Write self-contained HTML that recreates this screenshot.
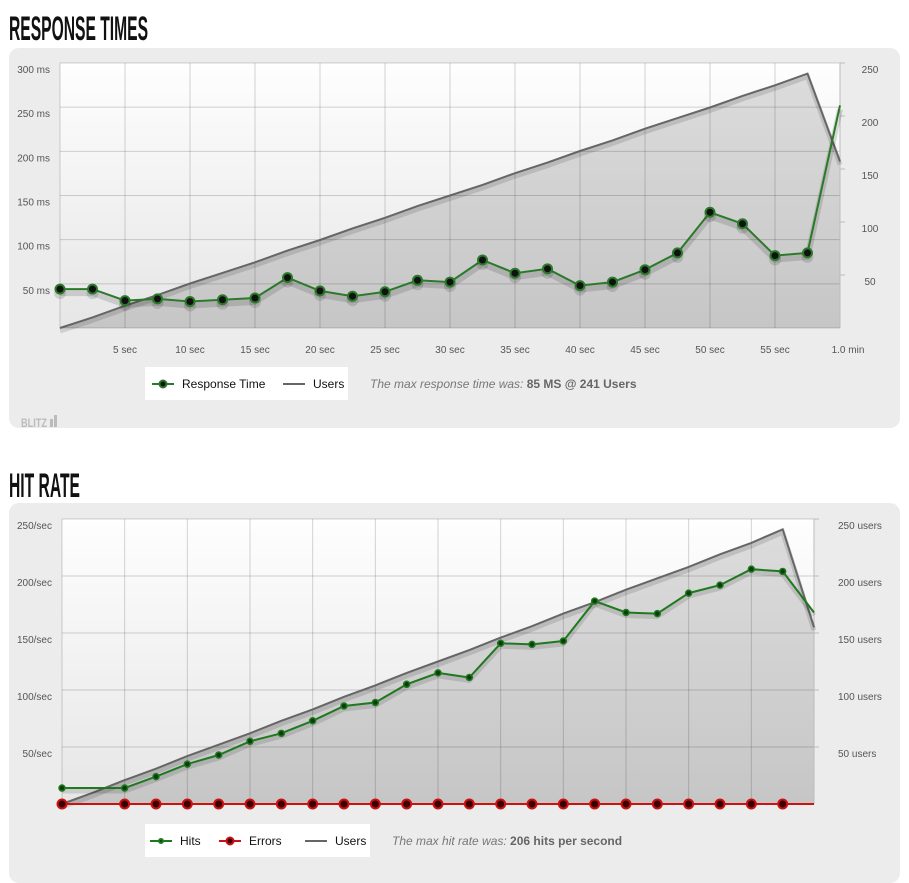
<!DOCTYPE html>
<html><head><meta charset="utf-8">
<style>
body{margin:0;width:909px;height:868px;background:#fff;overflow:hidden;font-family:"Liberation Sans",sans-serif;}
.title{position:absolute;left:9px;font-family:"Liberation Sans Narrow","Liberation Sans",sans-serif;font-weight:bold;font-size:34px;line-height:34px;color:#111;transform:scaleX(0.46);transform-origin:left top;white-space:nowrap;}
.panel{position:absolute;left:9px;width:891px;background:#ececec;border-radius:10px;}
svg{position:absolute;left:0;top:0;}
</style></head><body>
<div class="title" style="top:12px">RESPONSE TIMES</div>
<div class="panel" style="top:48px;height:380px"></div>
<div class="title" style="top:469px">HIT RATE</div>
<div class="panel" style="top:503px;height:380px"></div>
<svg id="s" width="909" height="868">
<defs>
<linearGradient id="bg" x1="0" y1="0" x2="0" y2="1"><stop offset="0" stop-color="#fefefe"/><stop offset="1" stop-color="#e6e6e6"/></linearGradient>
<linearGradient id="ar" x1="0" y1="0" x2="0" y2="1"><stop offset="0" stop-color="#dcdcdc"/><stop offset="1" stop-color="#c6c6c6"/></linearGradient>
</defs>
</svg>
<script>
// Response times chart data
const rtTimes=[0,2.5,5,7.5,10,12.5,15,17.5,20,22.5,25,27.5,30,32.5,35,37.5,40,42.5,45,47.5,50,52.5,55,57.5,60];
const rtValues=[44,44,31,33,30,32,34,57,42,36,41,54,52,77,62,67,48,52,66,85,131,118,82,85,252];
const rtUsers=[0,10,21,31,42,52,62,73,83,94,104,115,125,135,146,156,167,177,188,198,208,219,229,240,157];
const rtLeftTicks=["50 ms","100 ms","150 ms","200 ms","250 ms","300 ms"];
const rtRightTicks=["50","100","150","200","250"];
const rtXTicks=["5 sec","10 sec","15 sec","20 sec","25 sec","30 sec","35 sec","40 sec","45 sec","50 sec","55 sec","1.0 min"];
// Hit rate chart data
const hrSlots=[0,2,3,4,5,6,7,8,9,10,11,12,13,14,15,16,17,18,19,20,21,22,23,24];
const hrHits=[14,14,24,35,43,55,62,73,86,89,105,115,111,141,140,143,178,168,167,185,192,206,204,168];
const hrErrors=[0,0,0,0,0,0,0,0,0,0,0,0,0,0,0,0,0,0,0,0,0,0,0,0];
const hrUserSlots=[0,1,2,3,4,5,6,7,8,9,10,11,12,13,14,15,16,17,18,19,20,21,22,23,24];
const hrUsers=[0,10,21,31,42,52,62,73,83,94,104,115,125,135,146,156,167,177,188,198,208,219,229,241,155];
const hrLeftTicks=["50/sec","100/sec","150/sec","200/sec","250/sec"];
const hrRightTicks=["50 users","100 users","150 users","200 users","250 users"];

const S=document.getElementById('s');
const NS='http://www.w3.org/2000/svg';
function mk(t,a,txt){const e=document.createElementNS(NS,t);for(const k in a)e.setAttribute(k,a[k]);if(txt!==undefined)e.textContent=txt;S.appendChild(e);return e;}
function pts(xs,ys,fx,fy){return xs.map((x,i)=>fx(x).toFixed(1)+','+fy(ys[i]).toFixed(1)).join(' ');}

function chart(c){
  const {x0,x1,y0,y1}=c;
  let e=mk('rect',{x:x0,y:y0,width:x1-x0,height:y1-y0,fill:'url(#bg)'});
  
  
  const up=pts(c.uX,c.uY,c.fx,c.fyU);
  e=mk('polygon',{points:c.fx(c.uX[0])+','+y1+' '+up+' '+c.fx(c.uX[c.uX.length-1])+','+y1,fill:'url(#ar)'});
  
  
  for(let i=0;i<=c.nx;i++){const x=x0+(x1-x0)*i/c.nx;const g=mk('line',{x1:x,y1:y0,x2:x,y2:y1,stroke:'#000','stroke-opacity':0.17});
    }
  for(let i=0;i<=c.ny;i++){const y=y1-(y1-y0)*i/c.ny;const g=mk('line',{x1:x0,y1:y,x2:x1,y2:y,stroke:'#000','stroke-opacity':0.17});
    }
  mk('line',{x1:x1,y1:y0,x2:x1,y2:y1,stroke:'#bbb'});
  c.leftTicks.forEach((t,i)=>{const l=mk('text',{x:x0-10,y:c.fyL(c.lStep*(i+1))+10,'text-anchor':'end','font-size':10,fill:'#555'},t);
    });
  c.rightTicks.forEach((t,i)=>{const v=c.rStep*(i+1);const y=c.fyU(v);mk('line',{x1:x1,y1:y,x2:x1+5,y2:y,stroke:'#bbb'});
    const l=mk('text',{x:c.rx,y:y+(c.roff),'text-anchor':c.ranchor,'font-size':10,fill:'#555'},t);
    });
  mk('polyline',{points:up,fill:'none',stroke:'#000','stroke-opacity':0.12,'stroke-width':5,transform:'translate(0,3)'});
  e=mk('polyline',{points:up,fill:'none',stroke:'#666','stroke-width':2});
  
  
}

const c1={id:'response',x0:60,x1:840,y0:63,y1:328,nx:12,ny:6,
  fx:t=>60+t*13,fyL:v=>328-v*265/300,fyU:v=>328-v*265/250,
  uX:rtTimes,uY:rtUsers,leftTicks:rtLeftTicks,rightTicks:rtRightTicks,lStep:50,rStep:50,rx:870,roff:10,ranchor:'middle'};
chart(c1);
rtXTicks.forEach((t,i)=>{const l=mk('text',{x:c1.fx(5*(i+1))+(i==11?8:0),y:353,'text-anchor':'middle','font-size':10,fill:'#555'},t);
  });
{const p=pts(rtTimes,rtValues,c1.fx,c1.fyL);
 mk('polyline',{points:p,fill:'none',stroke:'#000','stroke-opacity':0.13,'stroke-width':6,transform:'translate(0,4)'});
 const l=mk('polyline',{points:p,fill:'none',stroke:'#2a7a2a','stroke-width':2});
 
 rtTimes.forEach((t,i)=>{if(i==rtTimes.length-1)return;
  mk('circle',{cx:c1.fx(t),cy:c1.fyL(rtValues[i])+4,r:6,fill:'#000','fill-opacity':0.13});
  const m=mk('circle',{cx:c1.fx(t),cy:c1.fyL(rtValues[i]),r:4.5,fill:'#111',stroke:'#2a7a2a','stroke-width':2});
  });}

const c2={id:'hitrate',x0:62,x1:814,y0:519,y1:804,nx:12,ny:5,
  fx:s=>62+s*752/24,fyL:v=>804-v*285/250,fyU:v=>804-v*285/250,
  uX:hrUserSlots,uY:hrUsers,leftTicks:hrLeftTicks,rightTicks:hrRightTicks,lStep:50,rStep:50,rx:838,roff:10,ranchor:'start'};
chart(c2);
{const pe=pts(hrSlots,hrErrors,c2.fx,c2.fyL);
 const le=mk('polyline',{points:pe+' 814,804',fill:'none',stroke:'#cc1111','stroke-width':2});
 
 hrSlots.forEach((s,i)=>{if(i==hrSlots.length-1)return;const m=mk('circle',{cx:c2.fx(s),cy:c2.fyL(hrErrors[i]),r:4.5,fill:'#3a0000',stroke:'#cc1111','stroke-width':2});
  });
 const p=pts(hrSlots,hrHits,c2.fx,c2.fyL);
 mk('polyline',{points:p,fill:'none',stroke:'#000','stroke-opacity':0.12,'stroke-width':5,transform:'translate(0,3)'});
 const l=mk('polyline',{points:p,fill:'none',stroke:'#1f7a1f','stroke-width':2});
 
 hrSlots.forEach((s,i)=>{if(i==hrSlots.length-1)return;const m=mk('circle',{cx:c2.fx(s),cy:c2.fyL(hrHits[i]),r:3,fill:'#0d3d0d',stroke:'#1f7a1f','stroke-width':1.5});
  });}

function legend(x,y,w,items,note,bold,nx){
  const b=mk('rect',{x:x,y:y,width:w,height:33,fill:'#fff'});
  
  items.forEach(it=>{mk('line',{x1:it.x,y1:y+17,x2:it.x+22,y2:y+17,stroke:it.c,'stroke-width':2});
    if(it.m)mk('circle',{cx:it.x+11,cy:y+17,r:it.r,fill:it.m,stroke:it.c,'stroke-width':2});
    const t=mk('text',{x:it.x+30,y:y+21,'font-size':12,fill:'#111'},it.t);
    });
  const n=mk('text',{x:nx,y:y+21,'font-size':12,fill:'#777','font-style':'italic'},note);
  
  const bs=document.createElementNS(NS,'tspan');bs.setAttribute('font-weight','bold');bs.setAttribute('font-style','normal');bs.setAttribute('fill','#666');bs.textContent=bold;n.appendChild(bs);
}
legend(145,367,203,[{x:152,c:'#2a7a2a',m:'#111',r:3.5,t:'Response Time'},{x:283,c:'#666',t:'Users'}],'The max response time was: ','85 MS @ 241 Users',370);
legend(145,824,225,[{x:150,c:'#1f7a1f',m:'#0d3d0d',r:2,t:'Hits'},{x:219,c:'#cc1111',m:'#3a0000',r:3.5,t:'Errors'},{x:305,c:'#666',t:'Users'}],'The max hit rate was: ','206 hits per second',392);
const bl=mk('text',{x:21,y:427,'font-size':12,fill:'#bbb','font-weight':'bold',textLength:26,lengthAdjust:'spacingAndGlyphs'},'BLITZ');

mk('rect',{x:50,y:419,width:3,height:8,fill:'#bbb'});mk('rect',{x:54,y:415,width:3,height:12,fill:'#bbb'});
</script>
</body></html>
